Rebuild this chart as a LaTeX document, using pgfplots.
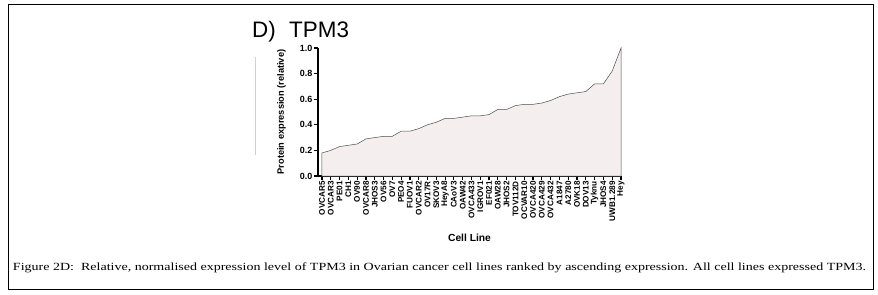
\documentclass[border=0pt]{standalone}
\usepackage{pgfplots}
\pgfplotsset{compat=1.18}
\usepackage{fontspec}
\setmainfont{Liberation Sans}
\newfontfamily\capfont{Liberation Serif}
\definecolor{areafill}{RGB}{244,238,238}
\begin{document}
\begin{tikzpicture}[x=1bp,y=1bp]
\useasboundingbox (0,0) rectangle (878,294);
\draw[line width=0.9bp] (8,5) rectangle (873,290);
\draw[gray!35, line width=0.6bp] (255,237) -- (255,139);
\node[anchor=base west, font=\fontsize{22.5}{24}\selectfont, inner sep=0] at (252,257) {D)};
\node[anchor=base west, font=\fontsize{22.5}{24}\selectfont, inner sep=0] at (289,257) {TPM3};
\begin{axis}[
  at={(318bp,118bp)}, anchor=south west,
  scale only axis, width=303bp, height=128bp,
  xmin=-0.45, xmax=34, ymin=0, ymax=1.0,
  axis x line*=bottom, axis y line*=left,
  axis line style={-, line width=1.5bp},
  xtick={0,...,34},
  xticklabels={OVCAR5,OVCAR3,PE01,CH1,OV90,OVCAR8,JHOS3,OV56,OV7,PEO4,FUOV1,OVCAR2,OV17R,SKOV3,HeyA8,CAoV3,OAW42,OVCA433,IGROV1,EF021,OAW28,JHOS2,TOV112D,OCVAR10,OVCA420,OVCA429,OVCA432,A1847,A2780,OVK18,DOV13,Tyknu,JHOS4,UWB1.289,Hey},
  x tick label style={rotate=90, anchor=east, font=\fontsize{8.2}{8}\selectfont\bfseries, inner sep=1bp},
  ytick={0,0.2,0.4,0.6,0.8,1.0},
  yticklabels={0.0,0.2,0.4,0.6,0.8,1.0},
  y tick label style={font=\fontsize{9}{9}\selectfont\bfseries, inner sep=1.5bp},
  tick align=outside, tick pos=left,
  major tick length=4bp,
  tick style={line width=1.2bp, black},
  ylabel={Protein expression (relative)},
  ylabel style={font=\fontsize{9.3}{10}\selectfont\bfseries, at={(axis description cs:-0.095,0.5)}},
  xlabel={Cell Line},
  xlabel style={font=\fontsize{10.3}{11}\selectfont\bfseries, at={(axis description cs:0.5,-0.43)}},
  clip=false,
]
\addplot[fill=areafill, draw=black!70, line width=0.5bp] coordinates {
(0,0.18) (1,0.20) (2,0.23) (3,0.24) (4,0.25) (5,0.29) (6,0.30) (7,0.31) (8,0.31)
(9,0.35) (10,0.35) (11,0.37) (12,0.40) (13,0.42) (14,0.45) (15,0.45) (16,0.46)
(17,0.47) (18,0.47) (19,0.48) (20,0.52) (21,0.52) (22,0.55) (23,0.56) (24,0.56)
(25,0.57) (26,0.59) (27,0.62) (28,0.64) (29,0.65) (30,0.66) (31,0.72) (32,0.72)
(33,0.82) (34,1.0)
} \closedcycle;
\end{axis}
\node[anchor=center, inner sep=0] at (439.5,26) {\resizebox{853bp}{\height}{\capfont\fontsize{11}{13}\selectfont Figure 2D:\ \ Relative, normalised expression level of TPM3 in Ovarian cancer cell lines ranked by ascending expression. All cell lines expressed TPM3.}};
\end{tikzpicture}
\end{document}
